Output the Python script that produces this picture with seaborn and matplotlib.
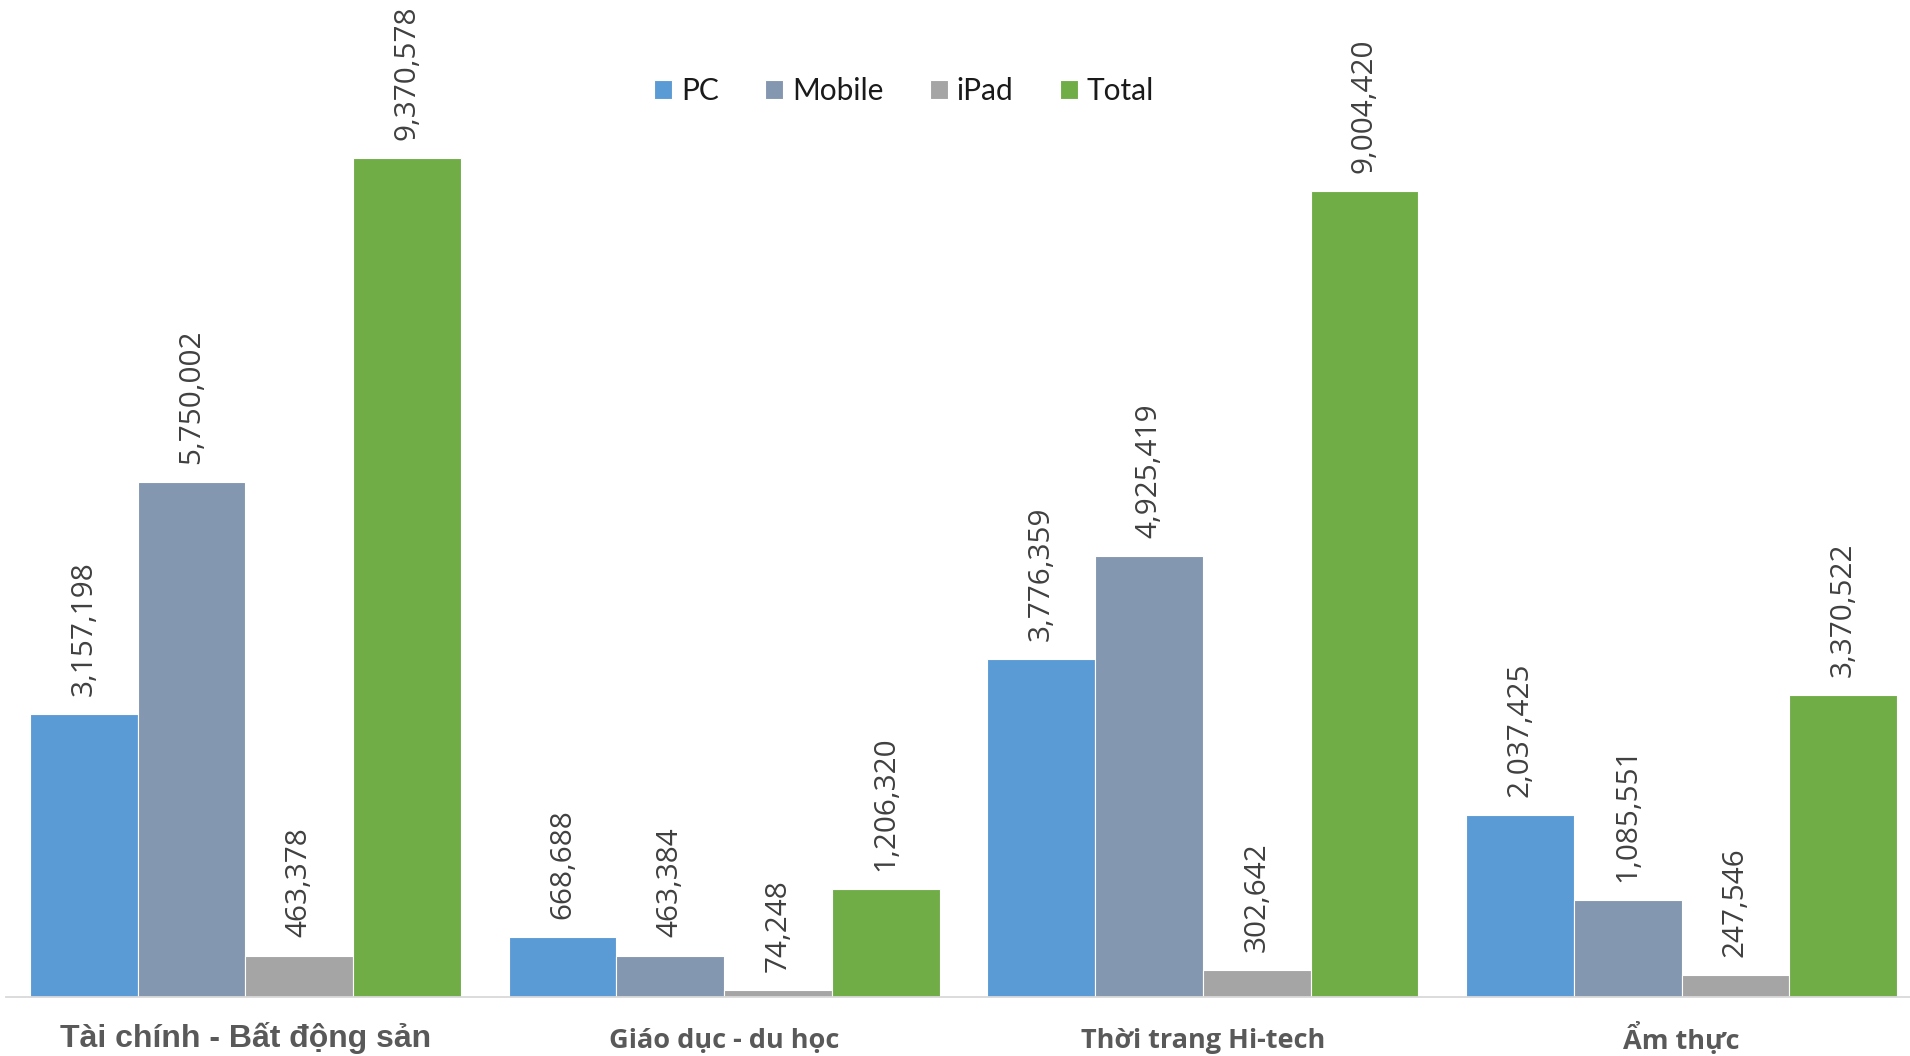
import matplotlib
matplotlib.use("Agg")
import matplotlib.pyplot as plt
import seaborn as sns
import pandas as pd

categories = ["Tài chính - Bất động sản", "Giáo dục - du học", "Thời trang Hi-tech", "Ẩm thực"]
series = ["PC", "Mobile", "iPad", "Total"]
pc = [3157198, 668688, 3776359, 2037425]
mobile = [5750002, 463384, 4925419, 1085551]
ipad = [463378, 74248, 302642, 247546]
total = [9370578, 1206320, 9004420, 3370522]

colors = ["#5B9BD5", "#8497B0", "#A5A5A5", "#70AD47"]

df = pd.DataFrame({
    "category": categories * 4,
    "series": [s for s in series for _ in categories],
    "value": pc + mobile + ipad + total,
})

sns.set_theme(style="white")
plt.rcParams["font.family"] = ["Open Sans", "DejaVu Sans"]

fig = plt.figure(figsize=[19.1, 10.56], dpi=100)
ax = fig.add_axes([6 / 1910, 1 - 997 / 1056, 1915 / 1910, 997 / 1056])

sns.barplot(data=df, x="category", y="value", hue="series", hue_order=series,
            order=categories, palette=colors, width=0.9, gap=0, ax=ax,
            edgecolor="white", linewidth=0.8, saturation=1)

# rotated value labels above each bar
for cont in ax.containers:
    ax.bar_label(cont, labels=[f"{v:,.0f}" for v in cont.datavalues], rotation=90,
                 padding=13, fontsize=21.4, color="#404040", family="Open Sans")

ax.set(xlim=(-0.5, 3.5), ylim=(0, 11.135e6), xlabel="", ylabel="", yticks=[])
sns.despine(ax=ax, left=True, top=True, right=True)
ax.spines["bottom"].set_color("#D9D9D9")
ax.spines["bottom"].set_linewidth(1.3)
ax.tick_params(axis="x", length=0, pad=18)

ax.set_xticks(range(len(categories)))
ax.set_xticklabels(categories)
for i, lab in enumerate(ax.get_xticklabels()):
    lab.set_color("#595959")
    lab.set_fontweight("bold")
    if i == 0:
        lab.set_family(["Liberation Sans", "DejaVu Sans"])
        lab.set_fontsize(23)
    else:
        lab.set_family(["Open Sans", "DejaVu Sans"])
        lab.set_fontsize(19.5)
        # the stacked accent on the last label already pushes it down
        lab.set_y(-0.006 if i < 3 else 0.0)

ax.legend(loc="center", bbox_to_anchor=(904 / 1910, 1 - 91 / 1056), bbox_transform=fig.transFigure,
          ncol=4, frameon=False, prop={"family": "Lato", "size": 21.5},
          handlelength=0.6, handleheight=0.6, handletextpad=0.3, columnspacing=1.55,
          labelcolor="#1a1a1a")

fig.savefig("out.png", dpi=100)
